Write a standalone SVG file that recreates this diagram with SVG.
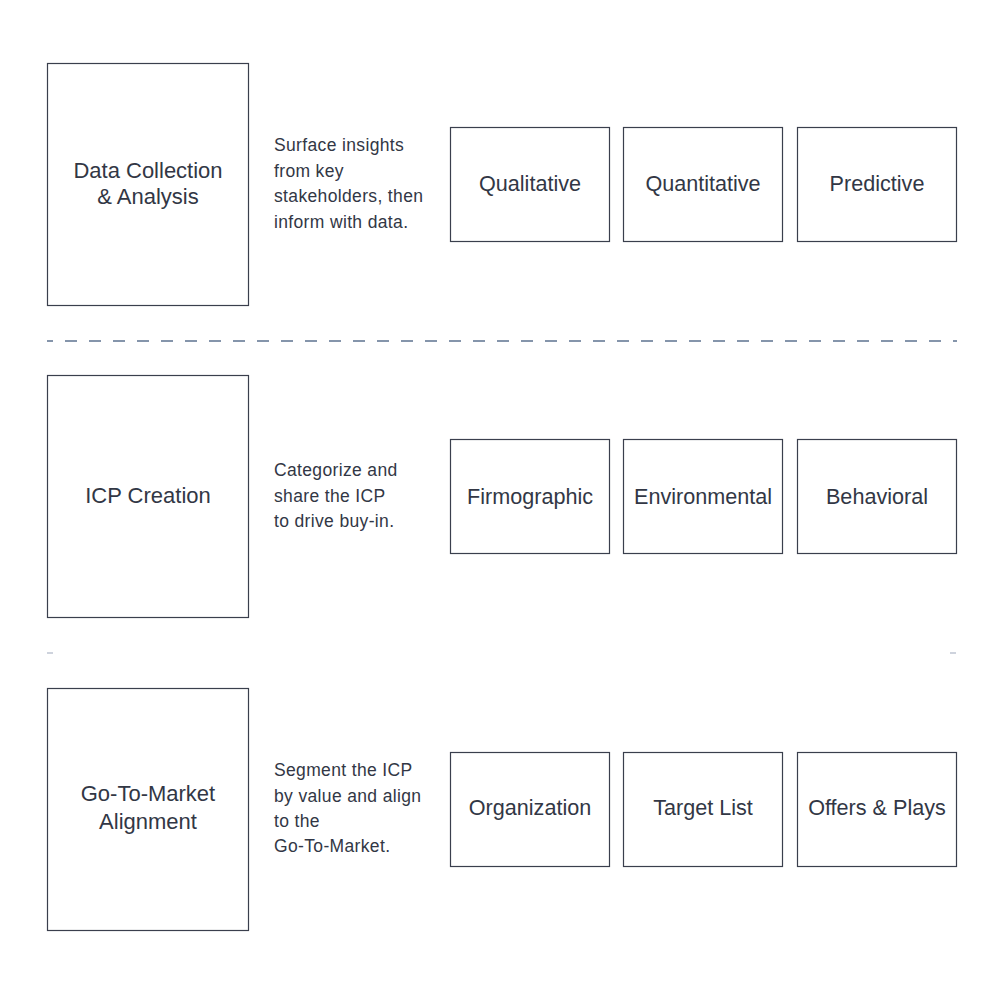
<svg xmlns="http://www.w3.org/2000/svg" width="1001" height="1001" viewBox="0 0 1001 1001">
<style>
.box{fill:#fff;stroke:#3a3f4d;stroke-width:1.2}
.t{font-family:"Liberation Sans",Arial,sans-serif;fill:#323745;text-anchor:middle;font-size:22px}
.s{font-family:"Liberation Sans",Arial,sans-serif;fill:#323745;text-anchor:middle;font-size:21.6px}
.d{font-family:"Liberation Sans",Arial,sans-serif;fill:#323745;font-size:17.5px;letter-spacing:0.35px}
</style>
<rect width="1001" height="1001" fill="#fff"/>
<g id="connectors">
<line x1="47" y1="341" x2="957" y2="341" stroke="#5d7390" stroke-width="1.3" stroke-dasharray="12 12" stroke-dashoffset="6"/>
<line x1="47" y1="653" x2="53" y2="653" stroke="#b4bccb" stroke-width="1.3"/>
<line x1="950" y1="653" x2="956" y2="653" stroke="#b4bccb" stroke-width="1.3"/>
</g>
<g id="n-data">
<rect class="box" x="47.5" y="63.5" width="201" height="242"/>
<text class="t" x="148" y="178">Data Collection</text>
<text class="t" x="148" y="204">&amp; Analysis</text>
</g>
<g id="n-data-desc">
<text class="d" x="274" y="151">Surface insights</text>
<text class="d" x="274" y="177">from key</text>
<text class="d" x="274" y="202">stakeholders, then</text>
<text class="d" x="274" y="228">inform with data.</text>
</g>
<g id="n-qual"><rect class="box" x="450.5" y="127.5" width="159" height="114"/><text class="s" x="530" y="191">Qualitative</text></g>
<g id="n-quant"><rect class="box" x="623.5" y="127.5" width="159" height="114"/><text class="s" x="703" y="191">Quantitative</text></g>
<g id="n-pred"><rect class="box" x="797.5" y="127.5" width="159" height="114"/><text class="s" x="877" y="191">Predictive</text></g>

<g id="n-icp">
<rect class="box" x="47.5" y="375.5" width="201" height="242"/>
<text class="t" x="148" y="503">ICP Creation</text>
</g>
<g id="n-icp-desc">
<text class="d" x="274" y="476">Categorize and</text>
<text class="d" x="274" y="502">share the ICP</text>
<text class="d" x="274" y="527">to drive buy-in.</text>
</g>
<g id="n-firmo"><rect class="box" x="450.5" y="439.5" width="159" height="114"/><text class="s" x="530" y="504">Firmographic</text></g>
<g id="n-env"><rect class="box" x="623.5" y="439.5" width="159" height="114"/><text class="s" x="703" y="504">Environmental</text></g>
<g id="n-beh"><rect class="box" x="797.5" y="439.5" width="159" height="114"/><text class="s" x="877" y="504">Behavioral</text></g>

<g id="n-gtm">
<rect class="box" x="47.5" y="688.5" width="201" height="242"/>
<text class="t" x="148" y="801">Go-To-Market</text>
<text class="t" x="148" y="829">Alignment</text>
</g>
<g id="n-gtm-desc">
<text class="d" x="274" y="776">Segment the ICP</text>
<text class="d" x="274" y="802">by value and align</text>
<text class="d" x="274" y="827">to the</text>
<text class="d" x="274" y="852">Go-To-Market.</text>
</g>
<g id="n-org"><rect class="box" x="450.5" y="752.5" width="159" height="114"/><text class="s" x="530" y="815">Organization</text></g>
<g id="n-target"><rect class="box" x="623.5" y="752.5" width="159" height="114"/><text class="s" x="703" y="815">Target List</text></g>
<g id="n-offers"><rect class="box" x="797.5" y="752.5" width="159" height="114"/><text class="s" x="877" y="815">Offers &amp; Plays</text></g>
</svg>
